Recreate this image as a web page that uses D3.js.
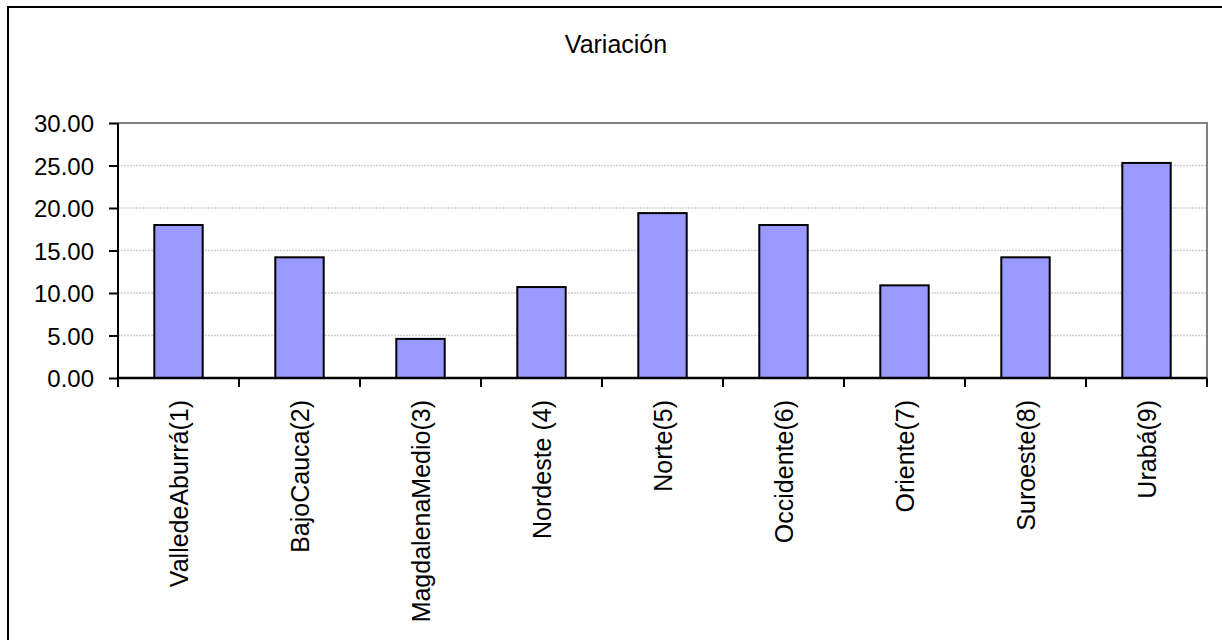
<!DOCTYPE html>
<html>
<head>
<meta charset="utf-8">
<script src="https://cdn.jsdelivr.net/npm/d3@7"></script>
<style>
  body { margin: 0; background: #fff; }
  text { font-family: "Liberation Sans", Arial, sans-serif; fill: #000; }
</style>
</head>
<body>
<svg id="chart" width="1222" height="640"></svg>
<script>
// data
var regions = ["ValledeAburrá(1)", "BajoCauca(2)", "MagdalenaMedio(3)", "Nordeste (4)",
  "Norte(5)", "Occidente(6)", "Oriente(7)", "Suroeste(8)", "Urabá(9)"];
var variacion = [18.0, 14.2, 4.6, 10.7, 19.4, 18.0, 10.9, 14.2, 25.3];
var yTicks = [0, 5, 10, 15, 20, 25, 30];
var title = "Variación";

var svg = d3.select("#chart"),
  margin = {top: 123, left: 118, bottom: 262, right: 15},
  width = +svg.attr("width"),
  height = +svg.attr("height");

// outer chart frame (runs off the right and bottom of the picture)
svg.append("rect")
  .attr("x", 8).attr("y", 7)
  .attr("width", width + 20).attr("height", height + 20)
  .attr("fill", "none").attr("stroke", "#000").attr("stroke-width", 2);

svg.append("text")
  .attr("x", 616).attr("y", 53)
  .attr("text-anchor", "middle")
  .style("font-size", "25px")
  .text(title);

var x = d3.scaleBand()
  .domain(regions)
  .range([margin.left, width - margin.right])
  .paddingInner(0.6)
  .paddingOuter(0.3);

var y = d3.scaleLinear()
  .domain([0, 30])
  .range([height - margin.bottom, margin.top]);

// gridlines
svg.append("g")
  .selectAll("line").data(yTicks.filter(d => d > 0 && d < 30))
  .enter().append("line")
  .attr("x1", margin.left).attr("x2", width - margin.right)
  .attr("y1", d => y(d)).attr("y2", d => y(d))
  .attr("stroke", "#d0d0d0").attr("stroke-width", 1.5)
  .attr("stroke-dasharray", "2,1");

// plot area top/right border
svg.append("path")
  .attr("d", `M${margin.left},${y(30)}H${width - margin.right}V${y(0)}`)
  .attr("fill", "none").attr("stroke", "#808080").attr("stroke-width", 2);

// bars
svg.append("g")
  .selectAll("rect").data(variacion)
  .enter().append("rect")
  .attr("x", (d, i) => x(regions[i]))
  .attr("y", d => y(d))
  .attr("width", x.bandwidth())
  .attr("height", d => y(0) - y(d))
  .attr("fill", "#9999ff")
  .attr("stroke", "#000").attr("stroke-width", 2);

// y axis
var yAxis = svg.append("g")
  .attr("transform", `translate(${margin.left},0)`)
  .call(d3.axisLeft(y).tickValues(yTicks).tickFormat(d3.format(".2f")).tickSize(9).tickPadding(15));
yAxis.select(".domain").attr("stroke-width", 2).attr("d", `M0,${y(30)}V${y(0)}`);
yAxis.selectAll(".tick line").attr("stroke-width", 2);
yAxis.selectAll("text").style("font-size", "24px").attr("dy", "0.36em");

// x axis: ticks sit between categories
var bounds = d3.range(regions.length + 1).map(i => margin.left + i * (width - margin.right - margin.left) / regions.length);
var xAxis = svg.append("g");
xAxis.append("line")
  .attr("x1", margin.left).attr("x2", width - margin.right)
  .attr("y1", y(0)).attr("y2", y(0))
  .attr("stroke", "#000").attr("stroke-width", 2.5);
xAxis.selectAll(".xt").data(bounds).enter().append("line")
  .attr("class", "xt")
  .attr("x1", d => d).attr("x2", d => d)
  .attr("y1", y(0)).attr("y2", y(0) + 9)
  .attr("stroke", "#000").attr("stroke-width", 2);
xAxis.selectAll("text").data(regions).enter().append("text")
  .attr("transform", d => `translate(${x(d) + x.bandwidth() / 2},${y(0) + 22}) rotate(-90)`)
  .attr("text-anchor", "end")
  .attr("dy", "0.36em")
  .style("font-size", "25px")
  .text(d => d);
</script>
</body>
</html>
